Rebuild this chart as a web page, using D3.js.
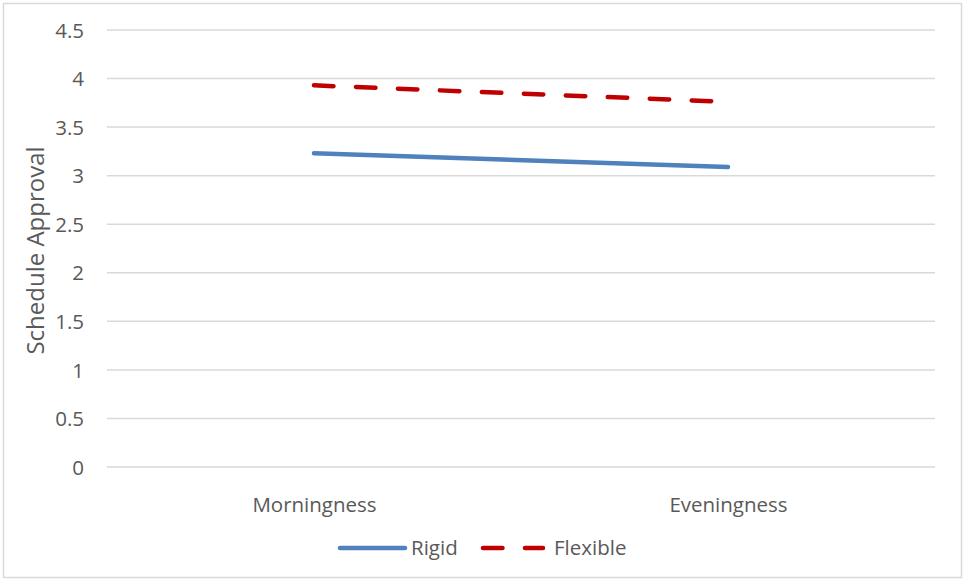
<!DOCTYPE html>
<html><head><meta charset="utf-8">
<script src="https://cdn.jsdelivr.net/npm/d3@7/dist/d3.min.js"></script>
<style>body{margin:0;background:#fff}svg{display:block}text{font-family:"Open Sans",sans-serif;fill:#595959}</style>
</head><body><svg id="c" width="965" height="581"></svg>
<script>
const categories = ["Morningness", "Eveningness"];
const rigid = [3.23, 3.09];
const flexible = [3.93, 3.76];
const yTicks = [0, 0.5, 1, 1.5, 2, 2.5, 3, 3.5, 4, 4.5];
const seriesNames = ["Rigid", "Flexible"];

const svg = d3.select("#c");
const W = 965, H = 581;
const m = {left: 107, right: 30, top: 30, bottom: 114};
svg.append("rect").attr("x", 3.5).attr("y", 3.5).attr("width", W - 7).attr("height", H - 7)
  .attr("fill", "#fff").attr("stroke", "#D9D9D9").attr("stroke-width", 1.5);

const x = d3.scalePoint().domain(categories).range([m.left, W - m.right]).padding(0.5);
const y = d3.scaleLinear().domain([0, 4.5]).range([H - m.bottom, m.top]);

const g = svg.append("g");
g.selectAll("line.grid").data(yTicks).join("line").attr("class", "grid")
  .attr("x1", m.left).attr("x2", W - m.right)
  .attr("y1", d => y(d)).attr("y2", d => y(d))
  .attr("stroke", "#D9D9D9").attr("stroke-width", 1.5);

const yAxis = d3.axisLeft(y).tickValues(yTicks).tickSize(0).tickPadding(0).tickFormat(d3.format(""));
const ya = svg.append("g").attr("transform", `translate(84,0)`).call(yAxis);
ya.select(".domain").remove();
ya.selectAll("text").style("font-size", "20.5px").attr("fill", "#595959").attr("dy", "0.35em");

const xAxis = d3.axisBottom(x).tickSize(0).tickPadding(0);
const xa = svg.append("g").attr("transform", `translate(0,512)`).call(xAxis);
xa.select(".domain").remove();
xa.selectAll("text").style("font-size", "20.5px").attr("fill", "#595959").attr("y", 0).attr("dy", 0);

svg.append("text").attr("transform", `translate(44,${(y(0) + y(4.5)) / 2 + 2}) rotate(-90)`)
  .attr("text-anchor", "middle").style("font-size", "24px").text("Schedule Approval");

const line = d3.line().x((d, i) => x(categories[i])).y(d => y(d));
svg.append("path").datum(rigid).attr("d", line).attr("fill", "none")
  .attr("stroke", "#4F81BD").attr("stroke-width", 4.5).attr("stroke-linecap", "round");
svg.append("path").datum(flexible).attr("d", line).attr("fill", "none")
  .attr("stroke", "#C00000").attr("stroke-width", 4.5).attr("stroke-linecap", "round")
  .attr("stroke-dasharray", "19.5,22.5");

// legend
const ly = 548;
svg.append("line").attr("x1", 340).attr("x2", 405).attr("y1", ly).attr("y2", ly)
  .attr("stroke", "#4F81BD").attr("stroke-width", 4.5).attr("stroke-linecap", "round");
svg.append("text").attr("x", 411).attr("y", ly).attr("dy", "0.35em").style("font-size", "20.5px").text(seriesNames[0]);
svg.append("line").attr("x1", 483).attr("x2", 543).attr("y1", ly).attr("y2", ly)
  .attr("stroke", "#C00000").attr("stroke-width", 4.5).attr("stroke-linecap", "round")
  .attr("stroke-dasharray", "19.5,22.5");
svg.append("text").attr("x", 554).attr("y", ly).attr("dy", "0.35em").style("font-size", "20.5px").text(seriesNames[1]);
</script></body></html>
